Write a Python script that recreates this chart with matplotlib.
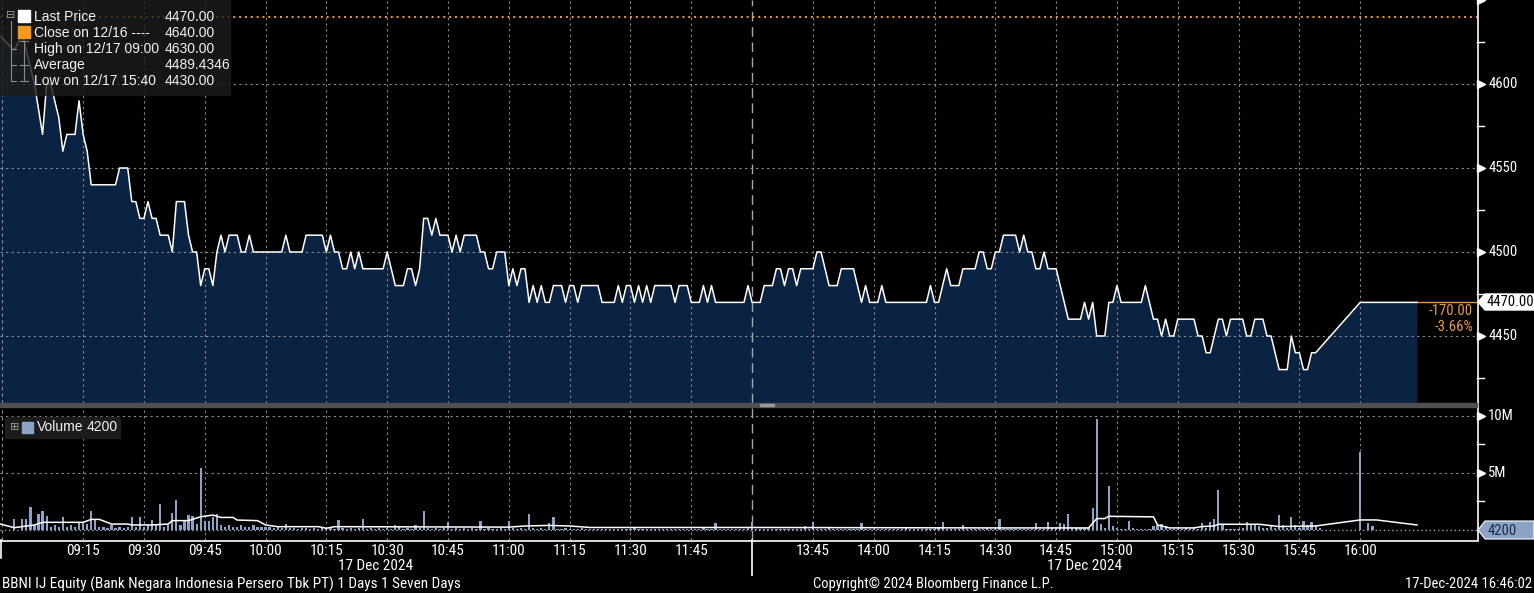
import matplotlib
matplotlib.use("Agg")
import matplotlib.pyplot as plt
import matplotlib.transforms as mtransforms
from matplotlib import font_manager
from matplotlib.lines import Line2D
from matplotlib.patches import Rectangle, Polygon

# ---- data ----
price_times = [
    "08:54", "08:58", "09:00", "09:01", "09:02", "09:03", "09:05", "09:06", "09:07", "09:09",
    "09:10", "09:11", "09:13", "09:14", "09:15", "09:16", "09:17", "09:23", "09:24", "09:26",
    "09:27", "09:28", "09:29", "09:30", "09:31", "09:32", "09:33", "09:34", "09:36", "09:37",
    "09:38", "09:40", "09:41", "09:42", "09:43", "09:44", "09:45", "09:46", "09:47", "09:48",
    "09:49", "09:50", "09:51", "09:53", "09:54", "09:55", "09:56", "09:57", "10:04", "10:05",
    "10:06", "10:09", "10:10", "10:14", "10:15", "10:16", "10:17", "10:18", "10:19", "10:20",
    "10:21", "10:22", "10:23", "10:24", "10:29", "10:30", "10:31", "10:32", "10:34", "10:35",
    "10:36", "10:37", "10:38", "10:39", "10:40", "10:41", "10:42", "10:43", "10:45", "10:46",
    "10:47", "10:48", "10:49", "10:52", "10:53", "10:54", "10:55", "10:56", "10:57", "10:59",
    "11:00", "11:01", "11:02", "11:03", "11:04", "11:05", "11:06", "11:07", "11:08", "11:09",
    "11:10", "11:11", "11:13", "11:14", "11:15", "11:16", "11:17", "11:18", "11:22", "11:23",
    "11:26", "11:27", "11:28", "11:29", "11:30", "11:31", "11:32", "11:33", "11:34", "11:35",
    "11:36", "11:37", "11:40", "11:41", "11:42", "11:44", "11:45", "11:47", "11:48", "11:49",
    "11:50", "11:51", "11:58", "11:59", "12:00",
    "13:32", "13:33", "13:35", "13:36", "13:37", "13:38", "13:39", "13:40", "13:41", "13:42",
    "13:45", "13:46", "13:47", "13:49", "13:51", "13:52", "13:55", "13:57", "13:58", "13:59",
    "14:01", "14:02", "14:03", "14:13", "14:14", "14:15", "14:16", "14:18", "14:19", "14:21",
    "14:22", "14:25", "14:26", "14:27", "14:28", "14:29", "14:30", "14:31", "14:32", "14:35",
    "14:36", "14:37", "14:38", "14:39", "14:40", "14:41", "14:42", "14:43", "14:45", "14:48",
    "14:51", "14:52", "14:53", "14:54", "14:55", "14:57", "14:58", "14:59", "15:00", "15:01",
    "15:06", "15:07", "15:09", "15:10", "15:11", "15:12", "15:13", "15:14", "15:15", "15:19",
    "15:20", "15:21", "15:22", "15:23", "15:24", "15:25", "15:26", "15:27", "15:28", "15:31",
    "15:32", "15:33", "15:34", "15:36", "15:37", "15:38", "15:40", "15:42", "15:43", "15:44",
    "15:45", "15:46", "15:47", "15:48", "15:49", "16:00", "16:14",
]
price_values = [
    4630, 4620, 4630, 4620, 4610, 4600, 4570, 4600, 4600, 4580,
    4560, 4570, 4570, 4590, 4570, 4560, 4540, 4540, 4550, 4550,
    4530, 4530, 4520, 4520, 4530, 4520, 4520, 4510, 4510, 4500,
    4530, 4530, 4510, 4500, 4500, 4480, 4490, 4490, 4480, 4500,
    4510, 4500, 4510, 4510, 4500, 4500, 4510, 4500, 4500, 4510,
    4500, 4500, 4510, 4510, 4500, 4510, 4500, 4500, 4490, 4490,
    4500, 4490, 4500, 4490, 4490, 4500, 4490, 4480, 4480, 4490,
    4490, 4480, 4490, 4520, 4520, 4510, 4520, 4510, 4510, 4500,
    4510, 4500, 4510, 4510, 4500, 4500, 4490, 4490, 4500, 4500,
    4480, 4490, 4480, 4490, 4490, 4470, 4480, 4470, 4480, 4470,
    4470, 4480, 4480, 4470, 4480, 4480, 4470, 4480, 4480, 4470,
    4470, 4480, 4470, 4480, 4480, 4470, 4480, 4470, 4480, 4470,
    4480, 4480, 4480, 4470, 4480, 4480, 4470, 4470, 4480, 4470,
    4480, 4470, 4470, 4480, 4470,
    4470, 4480, 4480, 4490, 4490, 4480, 4490, 4490, 4480, 4490,
    4490, 4500, 4500, 4480, 4480, 4490, 4490, 4470, 4480, 4470,
    4470, 4480, 4470, 4470, 4480, 4470, 4470, 4490, 4480, 4480,
    4490, 4490, 4500, 4500, 4490, 4490, 4500, 4500, 4510, 4510,
    4500, 4510, 4500, 4500, 4490, 4490, 4500, 4490, 4490, 4460,
    4460, 4470, 4460, 4470, 4450, 4450, 4470, 4470, 4480, 4470,
    4470, 4480, 4460, 4460, 4450, 4460, 4450, 4450, 4460, 4460,
    4450, 4450, 4440, 4440, 4450, 4460, 4460, 4450, 4460, 4460,
    4450, 4450, 4460, 4460, 4450, 4450, 4430, 4430, 4450, 4440,
    4440, 4430, 4430, 4440, 4440, 4470, 4470,
]

# volume per minute in millions of shares
preopen_time, preopen_volume = "08:58", 1.0
am_volume = [  # 09:00 .. 11:59
    0.95, 1.0, 2.0, 0.4, 1.4, 1.7, 1.2, 0.3, 0.4, 0.3,
    1.15, 0.3, 0.4, 0.3, 0.6, 0.6, 0.5, 1.7, 1.0, 0.3,
    0.3, 0.2, 0.4, 0.2, 0.3, 0.2, 0.3, 1.15, 0.3, 1.15,
    0.3, 0.4, 0.9, 0.4, 2.25, 0.3, 0.4, 1.5, 2.6, 0.4,
    0.8, 1.3, 1.2, 0.5, 5.4, 0.8, 0.8, 1.1, 1.4, 0.4,
    0.3, 0.4, 0.3, 0.3, 0.4, 0.3, 0.3, 0.4, 0.3, 0.3,
    0.3, 0.3, 0.2, 0.3, 0.2, 0.5, 0.2, 0.2, 0.1, 0.2,
    0.2, 0.1, 0.2, 0.1, 0.2, 0.1, 0.2, 0.1, 0.87, 0.2,
    0.1, 0.2, 0.1, 0.2, 0.95, 0.1, 0.2, 0.1, 0.2, 0.1,
    0.2, 0.1, 0.4, 0.35, 0.1, 0.2, 0.1, 0.4, 0.2, 1.7,
    0.2, 0.1, 0.2, 0.1, 0.2, 0.7, 0.1, 0.2, 0.1, 0.2,
    0.1, 0.2, 0.1, 0.8, 0.1, 0.2, 0.1, 0.1, 0.2, 0.1,
    0.8, 0.2, 0.1, 0.2, 0.1, 1.4, 0.2, 0.1, 0.2, 0.1,
    0.6, 1.1, 0.1, 0.1, 0.2, 0.1, 0.1, 0.1, 0.2, 0.1,
    0.1, 0.1, 0.1, 0.1, 0.1, 0.1, 0.1, 0.1, 0.1, 0.1,
    0.1, 0.15, 0.1, 0.1, 0.1, 0.1, 0.1, 0.1, 0.1, 0.1,
    0.1, 0.1, 0.1, 0.1, 0.1, 0.1, 0.1, 0.1, 0.15, 0.1,
    0.1, 0.63, 0.1, 0.1, 0.1, 0.1, 0.1, 0.1, 0.1, 0.3,
]
pm_volume = [  # 13:30 .. 15:50
    0.73,
    0.1, 0.1, 0.1, 0.1, 0.1, 0.1, 0.1, 0.1, 0.1, 0.1,
    0.1, 0.1, 0.35, 0.1, 0.73, 0.1, 0.1, 0.1, 0.3, 0.1,
    0.1, 0.1, 0.1, 0.1, 0.1, 0.1, 0.63, 0.1, 0.1, 0.1,
    0.1, 0.1, 0.1, 0.1, 0.1, 0.1, 0.1, 0.3, 0.1, 0.1,
    0.1, 0.1, 0.1, 0.1, 0.1, 0.2, 0.73, 0.1, 0.1, 0.1,
    0.1, 0.4, 0.1, 0.1, 0.1, 0.1, 0.1, 0.2, 0.1, 0.1,
    1.0, 0.1, 0.1, 0.1, 0.1, 0.1, 0.1, 0.1, 0.1, 0.64,
    0.1, 0.1, 0.7, 0.2, 0.2, 0.6, 0.5, 1.4, 0.2, 0.2,
    0.2, 0.2, 0.2, 1.9, 9.7, 0.5, 0.2, 3.9, 0.35, 0.2,
    0.1, 0.1, 0.8, 0.2, 0.1, 0.1, 0.1, 0.1, 0.35, 0.4,
    0.5, 0.35, 0.1, 0.1, 0.1, 0.1, 0.2, 0.1, 0.3, 0.1,
    0.64, 0.2, 0.7, 0.95, 3.5, 0.4, 0.1, 0.1, 0.1, 0.1,
    0.2, 0.7, 0.5, 0.4, 0.35, 0.2, 0.2, 0.35, 0.2, 1.3,
    0.4, 0.2, 1.1, 0.4, 0.2, 0.8, 0.4, 0.7, 0.4, 0.2,
]
close_times = ["16:00", "16:02", "16:03"]
close_volume = [6.8, 0.64, 0.35]

vol_avg_times = [
    "08:54", "08:58", "09:03", "09:05", "09:15", "09:17", "09:19", "09:22", "09:26", "09:27",
    "09:32", "09:36", "09:37", "09:41", "09:44", "09:47", "09:49", "09:52", "09:53", "09:58",
    "10:00", "10:03", "10:13", "10:15", "10:17", "11:00", "11:04", "11:10", "11:15", "11:20",
    "11:59", "13:30", "14:30", "14:53", "14:55", "14:57", "14:58", "15:09", "15:10", "15:13",
    "15:19", "15:21", "15:24", "15:25", "15:35", "15:40", "15:49", "16:00", "16:04", "16:14",
]
vol_avg_values = [
    0.58, 0.2, 0.44, 0.67, 0.67, 0.93, 0.93, 0.52, 0.52, 0.44,
    0.44, 0.52, 0.82, 0.82, 1.16, 1.31, 1.1, 1.1, 0.87, 0.82,
    0.44, 0.29, 0.29, 0.15, 0.29, 0.25, 0.35, 0.4, 0.35, 0.22,
    0.22, 0.22, 0.18, 0.18, 1.0, 1.0, 1.2, 1.15, 0.44, 0.18,
    0.18, 0.3, 0.35, 0.5, 0.5, 0.3, 0.35, 0.88, 0.88, 0.44,
]

tick_labels = ["09:15", "09:30", "09:45", "10:00", "10:15", "10:30", "10:45", "11:00",
               "11:15", "11:30", "11:45", "13:45", "14:00", "14:15", "14:30", "14:45",
               "15:00", "15:15", "15:30", "15:45", "16:00"]
price_ticks = [4450, 4500, 4550, 4600, 4650]
price_minor = [4425, 4475, 4525, 4575, 4625]
vol_ticks = [5, 10]
vol_tick_labels = ["5M", "10M"]
vol_minor = [2.5, 7.5]

legend_rows = [
    ("Last Price", "4470.00"),
    ("Close on 12/16 ----", "4640.00"),
    ("High on 12/17 09:00", "4630.00"),
    ("Average", "4489.4346"),
    ("Low on 12/17 15:40", "4430.00"),
]
prev_close = 4640
last_price = 4470
last_volume = 4200


def pick_font(names):
    for n in names:
        try:
            font_manager.findfont(n, fallback_to_default=False)
            return n
        except Exception:
            continue
    return "DejaVu Sans"


NARROW = pick_font(["Liberation Sans Narrow", "Roboto Condensed", "Liberation Sans"])
SANS = pick_font(["Liberation Sans", "DejaVu Sans"])

W, H = 1534, 593


def fx(px):
    return px / W


def fy(py):
    return 1 - py / H


def smin(t):
    # trading-session minutes: morning from 09:00, lunch break (12:00-13:30) removed
    h, m = map(int, t.split(":"))
    v = h * 60 + m
    return v - 540 if v <= 720 else 180 + v - 810


X_LEFT, X_RIGHT = -5.5, 358.8
P_LO, P_HI = 4410.1, 4650
V_LO, V_HI = -0.88, 10.79

fig = plt.figure(figsize=(W / 100, H / 100), dpi=100, facecolor="black")
ax = fig.add_axes([0, fy(403), fx(1477), 403 / H])
axv = fig.add_axes([0, fy(540), fx(1477), 133 / H])
for a in (ax, axv):
    a.set_facecolor("black")
    a.set_xlim(X_LEFT, X_RIGHT)
    for s in a.spines.values():
        s.set_visible(False)
    a.set_xticks([])
    a.set_yticks([])
ax.set_ylim(P_LO, P_HI)
axv.set_ylim(V_LO, V_HI)

# price
px = [smin(t) for t in price_times]
ax.fill_between(px, price_values, P_LO - 5, color="#0b2342", lw=0, zorder=1)
ax.plot(px, price_values, color="white", lw=1.1, zorder=5)
ax.plot([px[-1], X_RIGHT], [last_price, last_price], color="#e8963a", lw=1, zorder=4)
ax.axhline(prev_close, color="#f0a030", lw=1.4, ls=(0, (1, 2)), zorder=4)

grid_kw = dict(color="#8c8c8c", lw=0.8, ls=(0, (2, 3)), zorder=2)
tick_x = [smin(t) for t in tick_labels]
for m in tick_x:
    ax.axvline(m, **grid_kw)
    axv.axvline(m, **grid_kw)
for p in price_ticks[:-1]:
    ax.axhline(p, **grid_kw)
for v in vol_ticks:
    axv.axhline(v, **grid_kw)
for a in (ax, axv):
    a.axvline(180, color="#a8a8a8", lw=1, ls=(0, (7, 4)), zorder=3)
    a.axvline(-5.1, color="#8c8c8c", lw=0.8, ls=(0, (3, 3)), zorder=3)

# volume
bar_kw = dict(width=0.55, color="#8ba3c7", zorder=3)
axv.bar([smin(preopen_time)], [preopen_volume], **bar_kw)
axv.bar(range(0, len(am_volume)), am_volume, **bar_kw)
axv.bar(range(180, 180 + len(pm_volume)), pm_volume, **bar_kw)
axv.bar([smin(t) for t in close_times], close_volume, **bar_kw)
axv.plot([smin(t) for t in vol_avg_times], vol_avg_values, color="white", lw=1.1, zorder=4)
axv.axhline(last_volume / 1e6, color="#9aa7bb", lw=1, ls=(0, (1, 2)), zorder=2)

# right axes
tp = mtransforms.blended_transform_factory(ax.transAxes, ax.transData)
tv = mtransforms.blended_transform_factory(axv.transAxes, axv.transData)
for a, tr, ticks, labels, minor in (
        (ax, tp, price_ticks, [str(p) for p in price_ticks], price_minor),
        (axv, tv, vol_ticks, vol_tick_labels, vol_minor)):
    for y, lab in zip(ticks, labels):
        a.plot([1.0028], [y], marker=">", ms=6, color="white", mec="white",
               transform=tr, clip_on=False, zorder=6)
        if y < a.get_ylim()[1] - 1e-6:
            a.text(1.0075, y, lab, transform=tr, ha="left", va="center",
                   color="white", fontsize=10.5, family=NARROW)
    for y in minor:
        a.plot([1.0, 1.0045], [y, y], color="white", lw=1, transform=tr,
               clip_on=False, zorder=6)

# frame lines
for xs, ys in (([1477.5, 1477.5], [0, 540]), ([0, 1477.5], [540.5, 540.5]),
               ([752, 752], [540, 575]), ([1, 1], [540, 558])):
    fig.add_artist(Line2D([fx(x) for x in xs], [fy(y) for y in ys], color="white",
                          lw=1.2, transform=fig.transFigure, zorder=6))
fig.add_artist(Rectangle((fx(0), fy(407)), fx(1477), 4 / H, color="#505050",
                         transform=fig.transFigure, zorder=6))
fig.add_artist(Rectangle((fx(760), fy(405.5)), fx(14), 1.5 / H, color="#9a9a9a",
                         transform=fig.transFigure, zorder=7))

# last price tag
y0 = 302
tag = [(1478, y0), (1485, y0 - 8), (1534, y0 - 8), (1534, y0 + 8), (1485, y0 + 8)]
fig.add_artist(Polygon([(fx(x), fy(y)) for x, y in tag], closed=True, color="white",
                       transform=fig.transFigure, zorder=7))
fig.text(fx(1487), fy(y0), f"{last_price:.2f}", color="black", fontsize=10.5,
         family=NARROW, ha="left", va="center", zorder=8)
fig.text(fx(1473), fy(311), f"{last_price - prev_close:.2f}", color="#f09c3a",
         fontsize=10.5, family=NARROW, ha="right", va="center")
fig.text(fx(1473), fy(327), f"{(last_price - prev_close) / prev_close * 100:.2f}%",
         color="#f09c3a", fontsize=10.5, family=NARROW, ha="right", va="center")

# last volume tag
y1 = 530
tag = [(1478, y1), (1485, y1 - 9), (1534, y1 - 9), (1534, y1 + 9), (1485, y1 + 9)]
fig.add_artist(Polygon([(fx(x), fy(y)) for x, y in tag], closed=True, fc="#8ba3c7",
                       ec="white", lw=0.8, transform=fig.transFigure, zorder=7))
fig.text(fx(1488), fy(y1 + 1), f"{last_volume}", color="#1b2b45", fontsize=10.5,
         family=NARROW, ha="left", va="center", zorder=8)

# price legend
fig.add_artist(Rectangle((fx(0), fy(95)), fx(230), 95 / H, color="#1c1c1c", alpha=0.8,
                         transform=fig.transFigure, zorder=6))
row_y = [17, 33, 49, 65, 81]
for (name, val), y in zip(legend_rows, row_y):
    fig.text(fx(34), fy(y), name, color="#f2f2f2", fontsize=10, family=SANS,
             ha="left", va="center", zorder=8)
    fig.text(fx(165), fy(y), val, color="#f2f2f2", fontsize=10, family=SANS,
             ha="left", va="center", zorder=8)
fig.add_artist(Rectangle((fx(18), fy(22)), fx(12), 12 / H, color="white",
                         transform=fig.transFigure, zorder=8))
fig.add_artist(Rectangle((fx(18), fy(38)), fx(12), 12 / H, color="#f39a1c",
                         transform=fig.transFigure, zorder=8))
fig.text(fx(11), fy(15), "\u229f", color="#9a9a9a", fontsize=8, family="DejaVu Sans",
         ha="center", va="center", zorder=8)
for xs, ys in (([11, 11], [21, 81]), ([11, 16], [49, 49]), ([11, 16], [65, 65]),
               ([11, 16], [81, 81]), ([24, 24], [41, 81]), ([20, 28], [41, 41]),
               ([20, 28], [81, 81]), ([20, 28], [65, 65])):
    fig.add_artist(Line2D([fx(x) for x in xs], [fy(y) for y in ys], color="#8a8a8a",
                          lw=0.8, transform=fig.transFigure, zorder=8))

# volume legend
fig.add_artist(Rectangle((fx(5), fy(438)), fx(115), 21 / H, color="#1c1c1c",
                         transform=fig.transFigure, zorder=6))
fig.text(fx(15), fy(427), "\u229e", color="#9a9a9a", fontsize=8, family="DejaVu Sans",
         ha="center", va="center", zorder=8)
fig.add_artist(Rectangle((fx(22), fy(433)), fx(11), 11 / H, color="#8ba3c7",
                         transform=fig.transFigure, zorder=8))
fig.text(fx(37), fy(427), "Volume", color="#f2f2f2", fontsize=10, family=SANS,
         ha="left", va="center", zorder=8)
fig.text(fx(87), fy(427), f"{last_volume}", color="#f2f2f2", fontsize=10, family=SANS,
         ha="left", va="center", zorder=8)

# time axis labels
tx = mtransforms.blended_transform_factory(axv.transData, fig.transFigure)
for m, lab in zip(tick_x, tick_labels):
    axv.text(m, fy(551), lab, transform=tx, ha="center", va="center", color="white",
             fontsize=11, family=NARROW)
for m in ((X_LEFT + 180) / 2, (180 + px[-1]) / 2):
    axv.text(m, fy(566), "17 Dec 2024", transform=tx, ha="center", va="center",
             color="white", fontsize=11, family=NARROW)

fig.text(fx(2), fy(584), "BBNI IJ Equity (Bank Negara Indonesia Persero Tbk PT) 1 Days 1 Seven Days",
         color="white", fontsize=11, family=NARROW, ha="left", va="center")
fig.text(fx(813), fy(584), "Copyright\u00a9 2024 Bloomberg Finance L.P.",
         color="white", fontsize=10.5, family=NARROW, ha="left", va="center")
fig.text(fx(1532), fy(584), "17-Dec-2024 16:46:02",
         color="white", fontsize=10.5, family=NARROW, ha="right", va="center")

fig.savefig("out.png", dpi=100, facecolor="black")
